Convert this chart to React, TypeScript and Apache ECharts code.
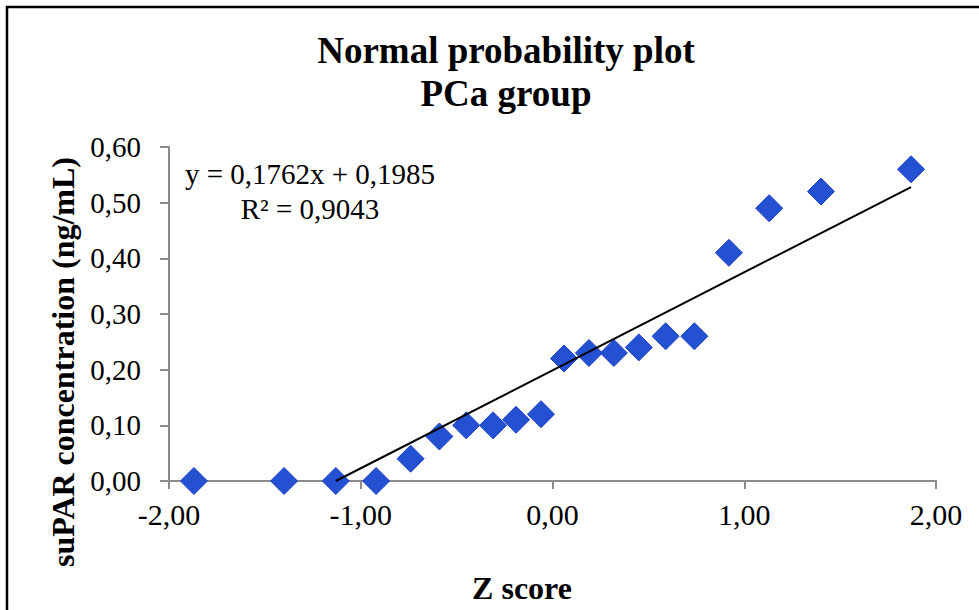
import React, { useEffect, useRef } from "react";
import * as echarts from "echarts";

const titleLines = ["Normal probability plot", "PCa group"];
const xAxisTitle = "Z score";
const yAxisTitle = "suPAR concentration (ng/mL)";
const equationLines = ["y = 0,1762x + 0,1985", "R² = 0,9043"];

const zScores = [-1.87, -1.4, -1.13, -0.92, -0.74, -0.59, -0.45, -0.31, -0.19, -0.06, 0.06, 0.19, 0.32, 0.45, 0.59, 0.74, 0.92, 1.13, 1.4, 1.87];
const concentrations = [0, 0, 0, 0, 0.04, 0.08, 0.1, 0.1, 0.11, 0.12, 0.22, 0.23, 0.23, 0.24, 0.26, 0.26, 0.41, 0.49, 0.52, 0.56];

const trendX = [-1.13, 1.87];
const trendY = [0.0, 0.528];

const FONT = "'Liberation Serif', 'Times New Roman', serif";
const fmt = (v: number) => v.toFixed(2).replace(".", ",");

export default function App() {
  const ref = useRef<HTMLDivElement>(null);
  useEffect(() => {
    if (!ref.current) return;
    const chart = echarts.init(ref.current, null, { renderer: "svg" });
    const axisColor = "#8c8c8c";
    chart.setOption({
      animation: false,
      backgroundColor: "#ffffff",
      title: {
        text: titleLines.join("\n"),
        left: 501,
        textAlign: "center",
        top: 24,
        textStyle: {
          fontFamily: FONT,
          fontWeight: "bold",
          fontSize: 37,
          lineHeight: 43,
          color: "#000",
        },
      },
      grid: { left: 169, top: 147, width: 767, height: 334, containLabel: false },
      xAxis: {
        type: "value",
        min: -2,
        max: 2,
        interval: 1,
        splitLine: { show: false },
        axisLine: { show: true, onZero: false, lineStyle: { color: axisColor, width: 2 } },
        axisTick: { show: true, inside: false, length: 8, lineStyle: { color: axisColor, width: 2 } },
        axisLabel: {
          margin: 18,
          fontFamily: FONT,
          fontSize: 30,
          color: "#000",
          formatter: (v: number) => fmt(v),
        },
      },
      yAxis: {
        type: "value",
        min: 0,
        max: 0.6,
        interval: 0.1,
        splitLine: { show: false },
        axisLine: { show: true, onZero: false, lineStyle: { color: axisColor, width: 2 } },
        axisTick: { show: true, inside: false, length: 9, lineStyle: { color: axisColor, width: 2 } },
        axisLabel: {
          margin: 28,
          fontFamily: FONT,
          fontSize: 29,
          color: "#000",
          formatter: (v: number) => fmt(v),
        },
      },
      series: [
        {
          type: "scatter",
          name: "suPAR",
          symbol: "diamond",
          symbolSize: [27, 27],
          clip: false,
          z: 2,
          itemStyle: { color: "#2450d2", borderColor: "#1a40c8", borderWidth: 1, opacity: 1 },
          data: zScores.map((x, i) => [x, concentrations[i]]),
        },
        {
          type: "line",
          name: "Linear trend",
          symbol: "none",
          z: 3,
          lineStyle: { color: "#000", width: 2 },
          data: trendX.map((x, i) => [x, trendY[i]]),
        },
      ],
      graphic: [
        {
          type: "rect",
          shape: { x: 7, y: 7, width: 1000, height: 1000 },
          style: { fill: "none", stroke: "#000", lineWidth: 2.5 },
          silent: true,
          z: 100,
        },
        {
          type: "text",
          x: 310,
          y: 174,
          style: {
            text: equationLines[0],
            fontFamily: FONT,
            fontSize: 29,
            fill: "#000",
            textAlign: "center",
            textVerticalAlign: "middle",
          },
        },
        {
          type: "text",
          x: 310,
          y: 209,
          style: {
            text: equationLines[1],
            fontFamily: FONT,
            fontSize: 29,
            fill: "#000",
            textAlign: "center",
            textVerticalAlign: "middle",
          },
        },
        {
          type: "text",
          x: 522,
          y: 588,
          style: {
            text: xAxisTitle,
            fontFamily: FONT,
            fontWeight: "bold",
            fontSize: 32,
            fill: "#000",
            textAlign: "center",
            textVerticalAlign: "middle",
          },
        },
        {
          type: "text",
          x: 63,
          y: 362,
          rotation: Math.PI / 2,
          style: {
            text: yAxisTitle,
            fontFamily: FONT,
            fontWeight: "bold",
            fontSize: 32,
            fill: "#000",
            textAlign: "center",
            textVerticalAlign: "middle",
          },
        },
      ],
    });
    return () => chart.dispose();
  }, []);
  return (
    <div
      ref={ref}
      style={{ position: "fixed", left: 0, top: 0, width: 979, height: 610, background: "#fff" }}
    />
  );
}
